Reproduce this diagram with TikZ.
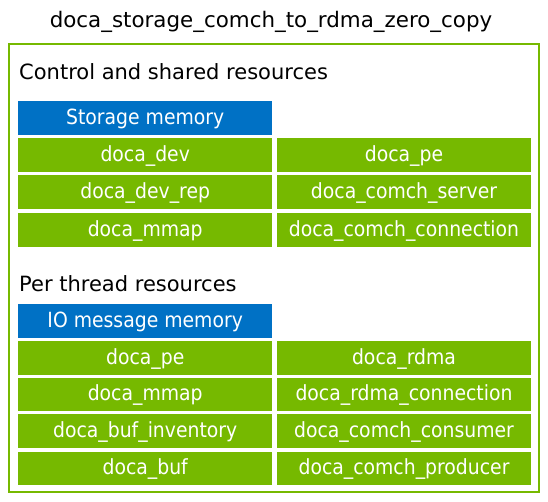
\documentclass[tikz,border=0pt]{standalone}
\usepackage{fontspec}
\setmainfont{DejaVu Sans}
\newfontfamily\boxfont[FakeStretch=0.9]{DejaVu Sans}
\definecolor{nvgreen}{HTML}{76B900}
\definecolor{memblue}{HTML}{0071C5}

\begin{document}
\begin{tikzpicture}[x=1pt,y=-1pt,
    res/.style={fill=nvgreen, text=white, inner sep=0pt, anchor=north west,
      minimum width=254pt, minimum height=33.5pt, text height=12.8pt, text depth=0pt,
      font=\boxfont\fontsize{20.9}{22}\selectfont},
    mem/.style={res, fill=memblue},
    heading/.style={anchor=base west, inner sep=0pt, font=\fontsize{21}{24}\selectfont}]
    \useasboundingbox (0,0) rectangle (548,502);

    % Title
    \node[anchor=base, inner sep=0pt, font=\fontsize{21.4}{24}\selectfont] (title) at (271,27.3)
      {doca\_storage\_comch\_to\_rdma\_zero\_copy};

    % Outer frame
    \draw[nvgreen, line width=2pt] (9,44.3) rectangle (539,492.3);

    % Control and shared resources
    \node[heading] (ctlhead) at (19,80) {Control and shared resources};
    \node[mem] (ctlmem) at (18,101) {Storage memory};
    \foreach \y/\l/\r [count=\i] in {
      138/doca\_dev/doca\_pe,
      175.3/doca\_dev\_rep/doca\_comch\_server,
      213/doca\_mmap/doca\_comch\_connection
    } {
      \node[res] (ctl-l\i) at (18,\y) {\l};
      \node[res] (ctl-r\i) at (276.8,\y) {\r};
    }

    % Per thread resources
    \node[heading] (thrhead) at (19,291.7) {Per thread resources};
    \node[mem] (thrmem) at (18,304) {IO message memory};
    \foreach \y/\l/\r [count=\i] in {
      341/doca\_pe/doca\_rdma,
      377.4/doca\_mmap/doca\_rdma\_connection,
      414/doca\_buf\_inventory/doca\_comch\_consumer,
      451.6/doca\_buf/doca\_comch\_producer
    } {
      \node[res] (thr-l\i) at (18,\y) {\l};
      \node[res] (thr-r\i) at (276.8,\y) {\r};
    }
  \end{tikzpicture}
\end{document}
